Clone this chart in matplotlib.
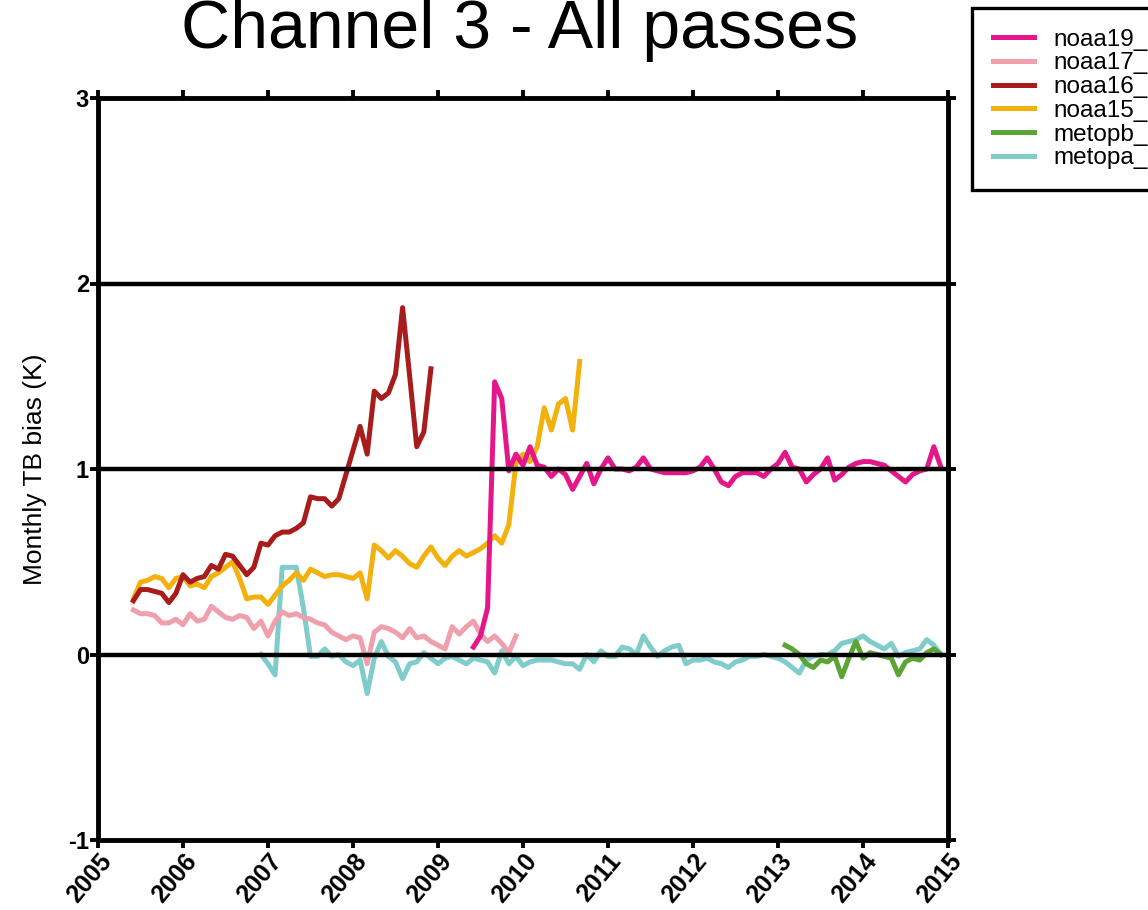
import numpy as np
import matplotlib
matplotlib.use("Agg")
import matplotlib.pyplot as plt

plt.rcParams['font.family'] = ['Liberation Sans', 'DejaVu Sans']
plt.rcParams['axes.unicode_minus'] = False

# monthly TB bias (K), channel 3, all passes; each series starts at (year, month)
noaa19_start = (2009, 6)
noaa19 = [0.04, 0.10, 0.25, 1.47, 1.38, 0.99, 1.08, 1.02, 1.12, 1.02,
          1.01, 0.96, 1.00, 0.97, 0.89, 0.96, 1.03, 0.92, 1.00, 1.06,
          1.00, 1.00, 0.99, 1.01, 1.06, 1.00, 0.99, 0.98, 0.98, 0.98,
          0.98, 0.99, 1.01, 1.06, 1.00, 0.93, 0.91, 0.96, 0.98, 0.98,
          0.98, 0.96, 1.00, 1.03, 1.09, 1.01, 1.00, 0.93, 0.97, 1.00,
          1.06, 0.94, 0.97, 1.01, 1.03, 1.04, 1.04, 1.03, 1.02, 0.99,
          0.96, 0.93, 0.97, 0.99, 1.00, 1.12, 1.01]

noaa17_start = (2005, 6)
noaa17 = [0.24, 0.22, 0.22, 0.21, 0.17, 0.17, 0.19, 0.16, 0.22, 0.18,
          0.19, 0.26, 0.23, 0.20, 0.19, 0.21, 0.20, 0.14, 0.18, 0.10,
          0.18, 0.23, 0.21, 0.22, 0.20, 0.19, 0.17, 0.16, 0.12, 0.10,
          0.08, 0.10, 0.09, -0.05, 0.12, 0.15, 0.14, 0.12, 0.09, 0.14,
          0.09, 0.10, 0.07, 0.05, 0.03, 0.15, 0.11, 0.15, 0.18, 0.11,
          0.07, 0.10, 0.06, 0.01, 0.10]

noaa16_start = (2005, 6)
noaa16 = [0.29, 0.35, 0.35, 0.34, 0.33, 0.28, 0.33, 0.43, 0.39, 0.41,
          0.42, 0.48, 0.46, 0.54, 0.53, 0.48, 0.43, 0.47, 0.60, 0.59,
          0.64, 0.66, 0.66, 0.68, 0.71, 0.85, 0.84, 0.84, 0.80, 0.84,
          0.97, 1.10, 1.23, 1.08, 1.42, 1.38, 1.41, 1.51, 1.87, 1.50,
          1.12, 1.20, 1.54]

noaa15_start = (2005, 6)
noaa15 = [0.30, 0.39, 0.40, 0.42, 0.41, 0.36, 0.41, 0.42, 0.37, 0.38,
          0.36, 0.42, 0.44, 0.47, 0.50, 0.41, 0.30, 0.31, 0.31, 0.27,
          0.32, 0.37, 0.40, 0.44, 0.40, 0.46, 0.44, 0.42, 0.43, 0.43,
          0.42, 0.41, 0.44, 0.30, 0.59, 0.56, 0.52, 0.56, 0.53, 0.49,
          0.47, 0.53, 0.58, 0.52, 0.48, 0.53, 0.56, 0.53, 0.55, 0.57,
          0.60, 0.64, 0.60, 0.70, 1.03, 1.08, 1.04, 1.12, 1.33, 1.21,
          1.35, 1.38, 1.21, 1.58]

metopb_start = (2013, 2)
metopb = [0.05, 0.03, 0.00, -0.05, -0.07, -0.03, -0.04, -0.01, -0.12, -0.02,
          0.07, -0.02, 0.01, 0.00, -0.01, -0.02, -0.11, -0.04, -0.02, -0.03,
          0.01, 0.03, 0.00]

metopa_start = (2006, 12)
metopa = [0.00, -0.05, -0.11, 0.47, 0.47, 0.47, 0.25, -0.01, -0.01, 0.03,
          -0.01, 0.00, -0.04, -0.06, -0.03, -0.21, -0.02, 0.07, -0.01, -0.04,
          -0.13, -0.05, -0.04, 0.01, -0.02, -0.05, -0.02, -0.01, -0.03, -0.05,
          -0.02, -0.03, -0.04, -0.10, 0.02, -0.05, -0.01, -0.06, -0.04, -0.03,
          -0.03, -0.03, -0.04, -0.05, -0.05, -0.08, 0.00, -0.04, 0.02, -0.01,
          -0.01, 0.04, 0.03, 0.00, 0.10, 0.04, -0.01, 0.02, 0.04, 0.05,
          -0.05, -0.03, -0.03, -0.02, -0.04, -0.05, -0.07, -0.04, -0.03, -0.01,
          -0.01, 0.00, -0.01, -0.02, -0.04, -0.07, -0.10, -0.03, -0.01, 0.00,
          0.00, 0.02, 0.06, 0.07, 0.08, 0.10, 0.07, 0.05, 0.03, 0.06,
          -0.01, 0.01, 0.02, 0.03, 0.08, 0.05, 0.00]

legend_labels = ["noaa19_", "noaa17_", "noaa16_", "noaa15_", "metopb_", "metopa_"]
colors = ["#e4168a", "#efa0ac", "#a81c1c", "#f2b10c", "#5da436", "#7fcccb"]
years = list(range(2005, 2016))
yticks = [-1, 0, 1, 2, 3]


def months(start, n):
    y, m = start
    return y + (m - 1) / 12.0 + np.arange(n) / 12.0


fig = plt.figure(figsize=(11.48, 9.10), dpi=100)
ax = fig.add_axes([98 / 1148, 70 / 910, 850 / 1148, 742 / 910])

data = [(noaa19_start, noaa19), (noaa17_start, noaa17), (noaa16_start, noaa16),
        (noaa15_start, noaa15), (metopb_start, metopb), (metopa_start, metopa)]

handles = [None] * len(data)
# draw bottom of the list first so noaa19 ends up on top
for i in reversed(range(len(data))):
    start, vals = data[i]
    handles[i], = ax.plot(months(start, len(vals)), vals, color=colors[i],
                          lw=3.6, zorder=2)

for v in (0, 1, 2):
    ax.axhline(v, color="black", lw=3.2, zorder=3)

ax.set_xlim(2005, 2015)
ax.set_ylim(-1, 3)
ax.set_xticks(years)
ax.set_xticklabels([str(y) for y in years], fontsize=18, fontweight="bold")
for lab in ax.get_xticklabels():
    lab.set_rotation(50)
    lab.set_ha("right")
    lab.set_va("top")
    lab.set_rotation_mode("anchor")
ax.set_yticks(yticks)
ax.set_yticklabels([str(t) for t in yticks], fontsize=17, fontweight="bold")
ax.tick_params(axis="both", direction="out", length=5.5, width=2.8,
               top=True, right=True)
ax.tick_params(axis="y", pad=1)
ax.tick_params(axis="x", pad=1)

for sp in ax.spines.values():
    sp.set_linewidth(3.5)

ax.set_ylabel("Monthly TB bias (K)", fontsize=19)
ax.yaxis.set_label_coords(-0.06, 0.5)

fig.text(520 / 1148, 1 - 48 / 910, "Channel 3 - All passes",
         ha="center", va="baseline", fontsize=49)

leg = fig.legend(handles, legend_labels, loc="upper left",
                 bbox_to_anchor=(972 / 1148, 1 - 8 / 910),
                 bbox_transform=fig.transFigure, borderaxespad=0,
                 fancybox=False, edgecolor="black", framealpha=1,
                 fontsize=17.5, labelspacing=0.07, handlelength=1.7,
                 handletextpad=0.8, borderpad=0.85)
leg.get_frame().set_linewidth(2.4)

fig.savefig("out.png", dpi=100)
